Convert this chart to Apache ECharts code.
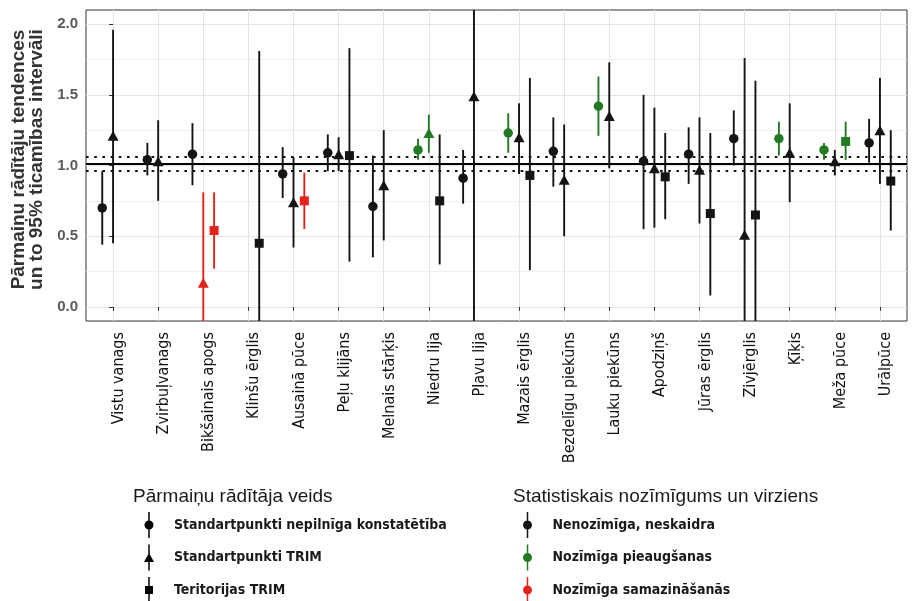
<!DOCTYPE html>
<html>
<head>
<meta charset="utf-8">
<script src="https://cdn.jsdelivr.net/npm/echarts@6/dist/echarts.min.js"></script>
<style>html,body{margin:0;padding:0;background:#fff}#c{width:912px;height:601px}</style>
</head>
<body>
<div id="c"></div>
<script>
// ---- data ----
const categories = ['Vistu vanags','Zvirbuļvanags','Bikšainais apogs','Klinšu ērglis','Ausainā pūce','Peļu klijāns','Melnais stārķis','Niedru lija','Pļavu lija','Mazais ērglis','Bezdelīgu piekūns','Lauku piekūns','Apodziņš','Jūras ērglis','Zivjērglis','Ķīķis','Meža pūce','Urālpūce'];

const typeNames = ['Standartpunkti nepilnīga konstatētība','Standartpunkti TRIM','Teritorijas TRIM'];
const sigNames = ['Nenozīmīga, neskaidra','Nozīmīga pieaugšanas','Nozīmīga samazināšanās'];

// Standartpunkti nepilnīga konstatētība (circle)
const nepEst = [0.70,1.04,1.08,null,0.94,1.09,0.71,1.11,0.91,1.23,1.10,1.42,1.03,1.08,1.19,1.19,1.11,1.16];
const nepLow = [0.44,0.93,0.86,null,0.77,0.96,0.35,1.04,0.73,1.09,0.85,1.21,0.55,0.87,1.00,1.07,1.04,1.02];
const nepUp  = [0.96,1.16,1.30,null,1.13,1.22,1.07,1.19,1.11,1.37,1.34,1.63,1.50,1.27,1.39,1.31,1.16,1.33];
const nepSig = [0,0,0,null,0,0,0,1,0,1,0,1,0,0,0,1,1,0];

// Standartpunkti TRIM (triangle)
const trimEst = [1.21,1.03,0.17,null,0.74,1.08,0.86,1.23,1.49,1.20,0.90,1.35,0.98,0.97,0.51,1.09,1.03,1.25];
const trimLow = [0.45,0.75,-0.40,null,0.42,0.96,0.47,1.09,-0.40,0.94,0.50,0.98,0.56,0.59,-0.40,0.74,0.93,0.87];
const trimUp  = [1.96,1.32,0.81,null,1.06,1.20,1.25,1.36,2.50,1.44,1.29,1.73,1.41,1.34,1.76,1.44,1.11,1.62];
const trimSig = [0,0,2,null,0,0,0,1,0,0,0,0,0,0,0,0,0,0];

// Teritorijas TRIM (square)
const terEst = [null,null,0.54,0.45,0.75,1.07,null,0.75,null,0.93,null,null,0.92,0.66,0.65,null,1.17,0.89];
const terLow = [null,null,0.27,-0.40,0.55,0.32,null,0.30,null,0.26,null,null,0.62,0.08,-0.40,null,1.04,0.54];
const terUp  = [null,null,0.81,1.81,0.95,1.83,null,1.22,null,1.62,null,null,1.23,1.23,1.60,null,1.31,1.25];
const terSig = [null,null,2,0,2,0,null,0,null,0,null,null,0,0,0,null,1,0];

// overall reference index and its interval
const refIndex = 1.01, refLow = 0.96, refHigh = 1.06;
const yTicks = [0, 0.5, 1.0, 1.5, 2.0];
const yMinor = [0.25, 0.75, 1.25, 1.75];

// ---- styling ----
const sigColors = ['#141414', '#237a23', '#e3231c'];
const dodge = [-0.24, 0, 0.24];
const labelShift = 0.13;
const symbols = ['circle', 'triangle', 'rect'];
const symbolSizes = [9.5, [11, 10], 9];
const Y_MIN = -0.1, Y_MAX = 2.1;

const types = [
  {est: nepEst, low: nepLow, up: nepUp, sig: nepSig},
  {est: trimEst, low: trimLow, up: trimUp, sig: trimSig},
  {est: terEst, low: terLow, up: terUp, sig: terSig}
];

const catIdx = categories.map((_, i) => i);
const labelPos = categories.map((_, i) => i + labelShift);

// error bar data grouped by significance
const barData = [[], [], []];
const pointData = [[], [], []];
types.forEach((t, ti) => {
  t.est.forEach((v, i) => {
    if (v == null) return;
    const x = i + dodge[ti];
    barData[t.sig[i]].push([x, t.low[i], t.up[i]]);
    pointData[ti].push([x, v, t.sig[i]]);
  });
});

const iconCircle = 'path://M4.25 0 H5.75 V8.7 H4.25 Z M4.25 17.3 H5.75 V26 H4.25 Z M0.5 13 A4.5 4.5 0 1 1 9.5 13 A4.5 4.5 0 1 1 0.5 13 Z';
const iconTri = 'path://M4.25 0 H5.75 V10 H4.25 Z M4.25 17 H5.75 V26 H4.25 Z M0 17.5 L5 8.5 L10 17.5 Z';
const iconSq = 'path://M4.25 0 H5.75 V9 H4.25 Z M4.25 17 H5.75 V26 H4.25 Z M1 9 H9 V17 H1 Z';
const typeIcons = [iconCircle, iconTri, iconSq];

const narrow = "'Liberation Sans Narrow', 'DejaVu Sans Condensed', 'Liberation Sans', sans-serif";
const sans = "'Liberation Sans', Arial, sans-serif";

function clampY(v) { return Math.max(Y_MIN, Math.min(Y_MAX, v)); }

const series = [];
barData.forEach((d, si) => {
  series.push({
    type: 'custom',
    name: sigNames[si],
    z: 3,
    clip: true,
    itemStyle: {color: sigColors[si]},
    encode: {x: 0, y: [1, 2]},
    data: d,
    renderItem: function (params, api) {
      const x = api.value(0);
      const p1 = api.coord([x, clampY(api.value(1))]);
      const p2 = api.coord([x, clampY(api.value(2))]);
      return {type: 'line', shape: {x1: p1[0], y1: p1[1], x2: p2[0], y2: p2[1]},
        style: {stroke: sigColors[si], lineWidth: 1.9}};
    },
    markLine: si === 0 ? {
      silent: true, symbol: 'none', z: 2,
      label: {show: false},
      data: [
        {yAxis: refIndex, lineStyle: {color: '#000', width: 2.2, type: 'solid'}},
        {yAxis: refLow, lineStyle: {color: '#111', width: 2.2, type: [2.6, 5.6]}},
        {yAxis: refHigh, lineStyle: {color: '#111', width: 2.2, type: [2.6, 5.6]}}
      ]
    } : undefined
  });
});
pointData.forEach((d, ti) => {
  series.push({
    type: 'scatter',
    name: typeNames[ti],
    z: 5,
    symbol: symbols[ti],
    symbolSize: symbolSizes[ti],
    data: d,
    itemStyle: {opacity: 1, color: p => sigColors[p.value[2]]},
    emphasis: {disabled: true}
  });
});

const legendText = {fontSize: 14, color: '#1a1a1a', fontFamily: narrow, fontWeight: 'bold'};

const chart = echarts.init(document.getElementById('c'), null, {renderer: 'canvas'});
chart.setOption({
  animation: false,
  backgroundColor: '#fff',
  title: [
    {text: 'Pārmaiņu rādītāja veids', left: 133, top: 487, padding: 0,
      textStyle: {fontSize: 19, fontWeight: 'normal', color: '#1a1a1a', fontFamily: sans}},
    {text: 'Statistiskais nozīmīgums un virziens', left: 513, top: 487, padding: 0,
      textStyle: {fontSize: 19, fontWeight: 'normal', color: '#1a1a1a', fontFamily: sans}}
  ],
  grid: {left: 86, top: 10, width: 821, height: 311, show: true, borderColor: '#333', borderWidth: 1, backgroundColor: '#fff', containLabel: false},
  legend: [
    {orient: 'vertical', left: 144, top: 512, height: 110, padding: 0, itemWidth: 40, itemHeight: 26, itemGap: 6.5,
      selectedMode: false, symbolKeepAspect: true,
      textStyle: legendText,
      data: typeNames.map((n, i) => ({name: n, icon: typeIcons[i], itemStyle: {color: '#000'}}))},
    {orient: 'vertical', left: 523, top: 512, height: 110, padding: 0, itemWidth: 40, itemHeight: 26, itemGap: 6.5,
      selectedMode: false, symbolKeepAspect: true,
      textStyle: legendText,
      data: sigNames.map((n, i) => ({name: n, icon: iconCircle, itemStyle: {color: sigColors[i]}}))}
  ],
  xAxis: [{
    type: 'value', min: -0.6, max: categories.length - 0.4,
    axisLine: {show: false},
    axisTick: {show: true, customValues: catIdx, length: 4, lineStyle: {color: '#333', width: 1}},
    axisLabel: {customValues: labelPos, rotate: 90, margin: 11, fontSize: 16, color: '#111', fontFamily: narrow,
      formatter: v => categories[Math.round(v)]},
    splitLine: {show: true, lineStyle: {color: '#e4e4e4', width: 1}}
  }],
  yAxis: [{
    type: 'value', min: Y_MIN, max: Y_MAX,
    name: 'Pārmaiņu rādītāju tendences\nun to 95% ticamības intervāli',
    nameLocation: 'middle', nameRotate: 90, nameGap: 27,
    nameTextStyle: {fontSize: 19, fontWeight: 'bold', color: '#333', lineHeight: 18, fontFamily: sans,
      padding: [0, 0, 0, 12]},
    axisLine: {show: false},
    axisTick: {show: true, customValues: yTicks, length: 4, lineStyle: {color: '#333'}},
    axisLabel: {customValues: yTicks, margin: 8, fontSize: 15, fontWeight: 'bold', color: '#5a5a5a', fontFamily: sans,
      formatter: v => v.toFixed(1)},
    splitLine: {show: true, lineStyle: {color: '#e4e4e4', width: 1}}
  }, {
    type: 'value', min: Y_MIN, max: Y_MAX, position: 'left',
    axisLine: {show: false},
    axisTick: {show: false, customValues: yMinor},
    axisLabel: {show: false, customValues: yMinor},
    splitLine: {show: true, lineStyle: {color: '#ececec', width: 0.8}}
  }],
  series: series
});
</script>
</body>
</html>
